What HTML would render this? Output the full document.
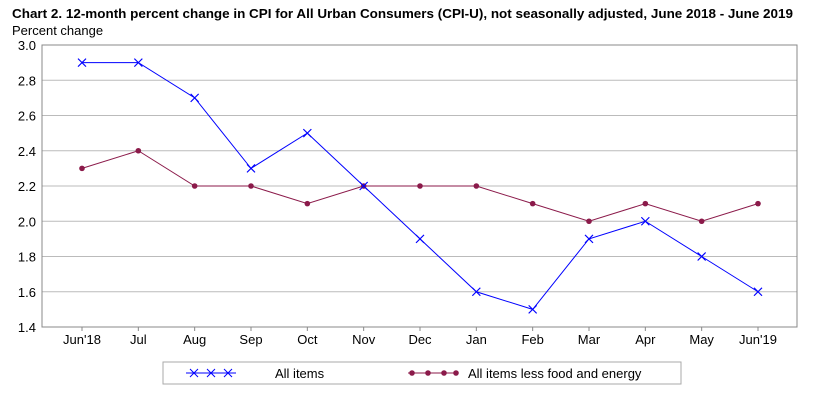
<!DOCTYPE html>
<html><head><meta charset="utf-8"><style>
html,body{margin:0;padding:0;background:#fff;}
svg{display:block;font-family:"Liberation Sans","DejaVu Sans",sans-serif;}
</style></head><body>
<svg id="chart" width="826" height="407">
<text x="12" y="18" font-size="13" font-weight="bold" fill="#000" textLength="781" lengthAdjust="spacingAndGlyphs">Chart 2. 12-month percent change in CPI for All Urban Consumers (CPI-U), not seasonally adjusted, June 2018 - June 2019</text>
<text x="12" y="35" font-size="13" fill="#000">Percent change</text>
<g id="grid"></g>
<rect x="42" y="45" width="755" height="282" fill="none" stroke="#888"/>
<g id="series"></g>
<rect x="163" y="362" width="518" height="22" fill="#fff" stroke="#aaa"/>
<g>
<line x1="186" y1="373" x2="236" y2="373" stroke="#0000ff" stroke-width="1"/>
<path d="M190 369l8 8M198 369l-8 8M207 369l8 8M215 369l-8 8M224 369l8 8M232 369l-8 8" stroke="#0000ff"/>
<text x="275" y="378" font-size="13">All items</text>
</g>
<g>
<line x1="408" y1="373" x2="458" y2="373" stroke="#8b1a4a" stroke-width="1"/>
<circle cx="412" cy="373" r="2.8" fill="#8b1a4a"/><circle cx="428" cy="373" r="2.8" fill="#8b1a4a"/><circle cx="444" cy="373" r="2.8" fill="#8b1a4a"/><circle cx="456" cy="373" r="2.8" fill="#8b1a4a"/>
<text x="468" y="378" font-size="13">All items less food and energy</text>
</g>
</svg>
<script>
const categories=["Jun'18","Jul","Aug","Sep","Oct","Nov","Dec","Jan","Feb","Mar","Apr","May","Jun'19"];
const allItems=[2.9,2.9,2.7,2.3,2.5,2.2,1.9,1.6,1.5,1.9,2.0,1.8,1.6];
const core=[2.3,2.4,2.2,2.2,2.1,2.2,2.2,2.2,2.1,2.0,2.1,2.0,2.1];
const yTicks=[1.4,1.6,1.8,2.0,2.2,2.4,2.6,2.8,3.0];
const NS="http://www.w3.org/2000/svg";
const yMin=1.4,yMax=3.0,plotTop=45,plotBot=327,plotLeft=42,plotRight=797;
function yScale(v){return plotBot-(v-yMin)/(yMax-yMin)*(plotBot-plotTop);}
function xScale(i){return 82+i*(758-82)/(categories.length-1);}
function mk(t,a,p){const e=document.createElementNS(NS,t);for(const k in a)e.setAttribute(k,a[k]);p.appendChild(e);return e;}
const grid=document.getElementById('grid'),ser=document.getElementById('series');
yTicks.forEach(v=>{
 const l=mk('line',{x1:plotLeft,x2:plotRight,y1:yScale(v),y2:yScale(v),stroke:'#bbb'},grid);
 
 
 const t=mk('text',{x:36,y:yScale(v)+5,'font-size':13,'text-anchor':'end'},grid);
 t.textContent=v.toFixed(1);
 
 
});
categories.forEach((c,i)=>{
 mk('line',{x1:xScale(i),x2:xScale(i),y1:plotBot,y2:plotBot+4,stroke:'#888'},grid);
 const t=mk('text',{x:xScale(i),y:plotBot+17,'font-size':13,'text-anchor':'middle'},grid);
 t.textContent=c;
 
 
});
const p2=mk('polyline',{points:core.map((v,i)=>xScale(i)+','+yScale(v)).join(' '),fill:'none',stroke:'#8b1a4a','stroke-width':1},ser);


core.forEach((v,i)=>{const c=mk('circle',{cx:xScale(i),cy:yScale(v),r:2.8,fill:'#8b1a4a'},ser);
 
 });
const p1=mk('polyline',{points:allItems.map((v,i)=>xScale(i)+','+yScale(v)).join(' '),fill:'none',stroke:'#0000ff','stroke-width':1},ser);


allItems.forEach((v,i)=>{const cx=xScale(i),cy=yScale(v);
 const m=mk('path',{d:`M${cx-4} ${cy-4}l8 8M${cx+4} ${cy-4}l-8 8`,stroke:'#0000ff','stroke-width':1.2},ser);
 
 });
</script>
</body></html>
